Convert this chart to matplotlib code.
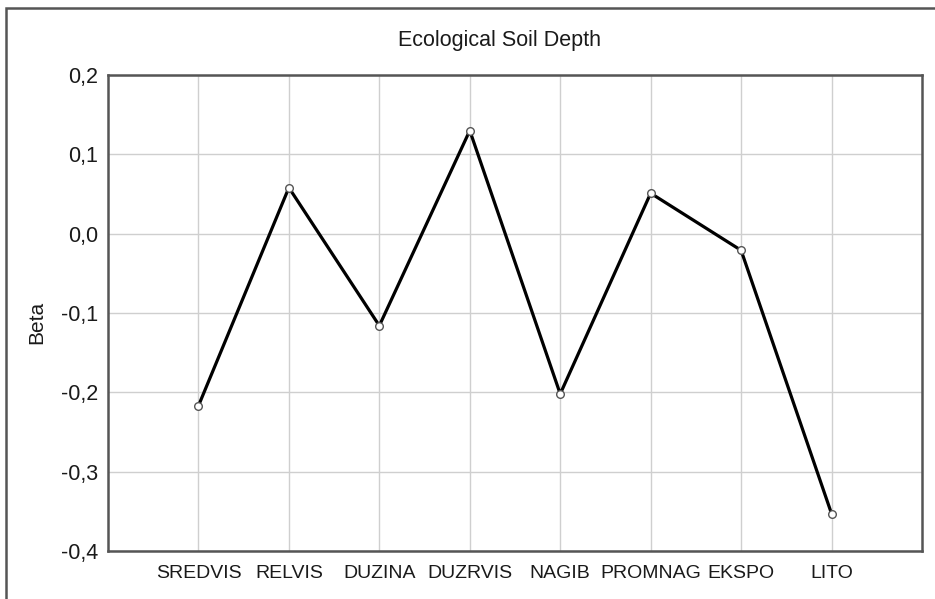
import numpy as np
import matplotlib
matplotlib.use('Agg')
import matplotlib.pyplot as plt
from matplotlib.patches import Rectangle
from matplotlib.ticker import FuncFormatter

# data
variables = ['SREDVIS', 'RELVIS', 'DUZINA', 'DUZRVIS', 'NAGIB', 'PROMNAG', 'EKSPO', 'LITO']
beta = [-0.217, 0.058, -0.116, 0.130, -0.202, 0.051, -0.021, -0.353]
y_ticks = [-0.4, -0.3, -0.2, -0.1, 0.0, 0.1, 0.2]

plt.rcParams['font.family'] = ['Liberation Sans', 'DejaVu Sans']

W, H = 935, 599
fig = plt.figure(figsize=(W / 100, H / 100), dpi=100)
fig.patch.set_facecolor('white')

# axes box in pixel terms of the reference
ax = fig.add_axes([108 / W, 1 - 551 / H, (922 - 108) / W, (551 - 75) / H])

x = np.arange(1, len(variables) + 1)
ax.plot(x, beta, color='black', linewidth=2.3, zorder=3,
        marker='o', markersize=5.5, markerfacecolor='white',
        markeredgecolor='#555555', markeredgewidth=1)

ax.set_xlim(0, len(variables) + 1)
ax.set_ylim(-0.4, 0.2)
ax.set_xticks(x)
ax.set_xticklabels(variables)
ax.set_yticks(y_ticks)


def comma_fmt(v, pos):
    s = '%.1f' % v
    if s == '-0.0':
        s = '0.0'
    return s.replace('.', ',')


ax.yaxis.set_major_formatter(FuncFormatter(comma_fmt))
ax.tick_params(axis='both', length=0, colors='#1a1a1a')
ax.tick_params(axis='x', pad=10, labelsize=14)
ax.tick_params(axis='y', pad=7, labelsize=15.5)

ax.grid(True, color='#cfcfcf', linewidth=1)
ax.set_axisbelow(True)
for sp in ax.spines.values():
    sp.set_color('#555555')
    sp.set_linewidth(1.8)

fig.text(500 / W, 1 - 46 / H, 'Ecological Soil Depth', ha='center', va='baseline',
         fontsize=15.5, color='#1a1a1a')
fig.text(37 / W, 1 - 322 / H, 'Beta', ha='center', va='center', rotation=90,
         fontsize=15, color='#1a1a1a')

# outer frame, only left and top edges are inside the picture
fig.patches.append(Rectangle((6 / W, -0.1), 2.0, 1.1 - 8 / H, transform=fig.transFigure,
                             fill=False, edgecolor='#555555', linewidth=1.8))

plt.savefig('out.png', dpi=100)
plt.close()
